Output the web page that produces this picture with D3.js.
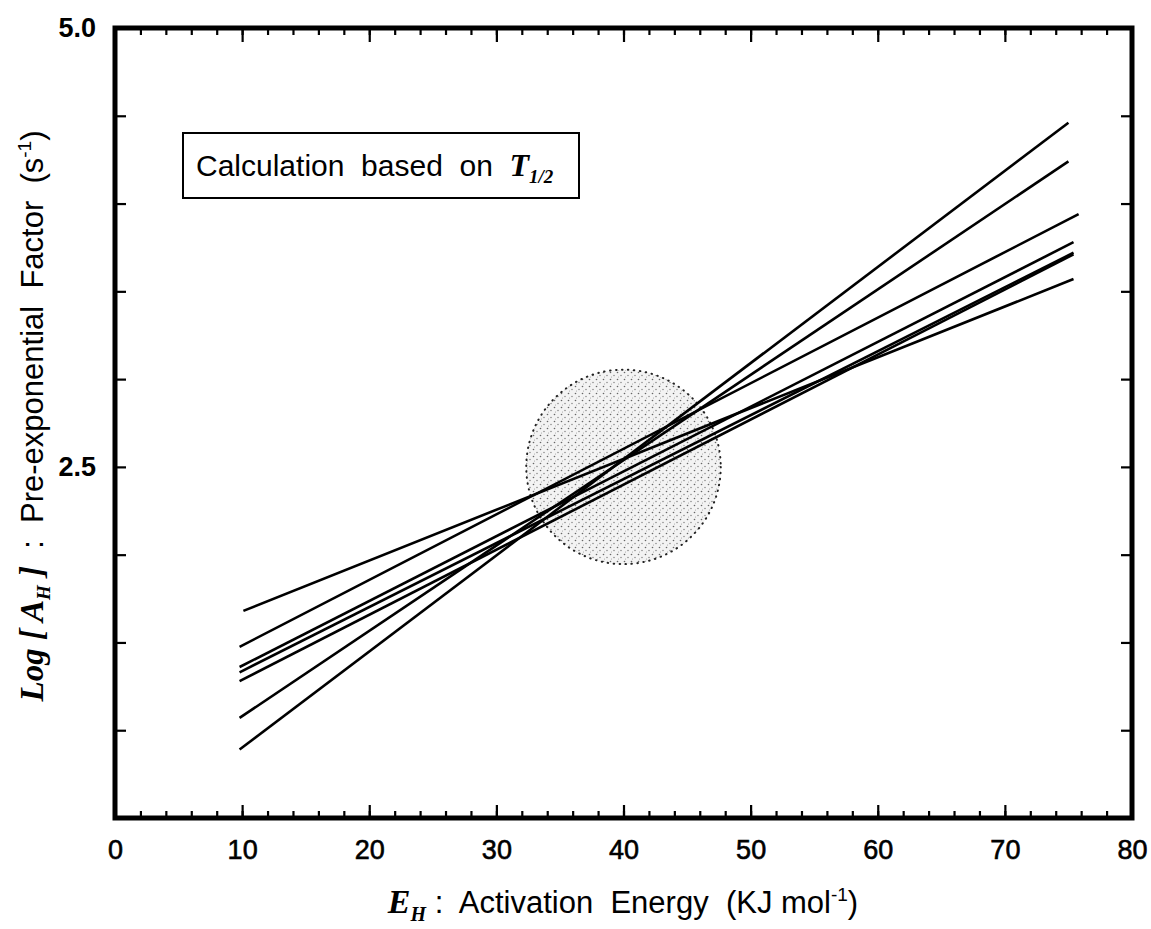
<!DOCTYPE html>
<html>
<head>
<meta charset="utf-8">
<script src="https://cdn.jsdelivr.net/npm/d3@7"></script>
<style>
  body { margin: 0; background: #fff; }
  text { font-family: "Liberation Sans", Arial, sans-serif; fill: #000; }
  .serif { font-family: "Liberation Serif", "Times New Roman", serif; }
</style>
</head>
<body>
<div id="chart"></div>
<script>
// fitted lines (x in KJ/mol, y = log A_H)
const xStart = [9.8, 9.8, 9.8, 9.8, 9.8, 9.8, 10.1];
const yStart = [0.89, 1.07, 1.475, 1.36, 1.33, 1.28, 1.68];
const xEnd   = [75.0, 75.0, 75.8, 75.4, 75.4, 75.4, 75.4];
const yEnd   = [4.46, 4.24, 3.94, 3.78, 3.72, 3.71, 3.57];

// shaded region where the lines meet
const spotCenter = [40, 2.5];
const spotRadius = 7.65;   // in x units

const xMajor = [0, 10, 20, 30, 40, 50, 60, 70, 80];
const xMinor = d3.range(0, 81, 2);
const yMinor = [1.0, 1.5, 2.0, 2.5, 3.0, 3.5, 4.0, 4.5];
const yLabels = [5.0, 2.5];

const W = 1151, H = 929;

let svg = d3.select("#chart").append("svg")
    .attr("width", W)
    .attr("height", H);

let x = d3.scaleLinear().domain([0, 80]).range([115, 1132]);
let y = d3.scaleLinear().domain([0.5, 5.0]).range([818, 28]);

// stipple for the circle
let defs = svg.append("defs");
let pat = defs.append("pattern")
    .attr("id", "stip")
    .attr("patternUnits", "userSpaceOnUse")
    .attr("width", 7)
    .attr("height", 7);
pat.append("rect").attr("width", 7).attr("height", 7).attr("fill", "#f3f3f3");
pat.append("circle").attr("cx", 1.5).attr("cy", 1.5).attr("r", 0.8).attr("fill", "#666");
pat.append("circle").attr("cx", 5).attr("cy", 4.5).attr("r", 0.7).attr("fill", "#777");
pat.append("circle").attr("cx", 2.5).attr("cy", 6).attr("r", 0.5).attr("fill", "#999");

let rPx = x(spotCenter[0] + spotRadius) - x(spotCenter[0]);
svg.append("circle")
    .attr("cx", x(spotCenter[0]))
    .attr("cy", y(spotCenter[1]))
    .attr("r", rPx)
    .attr("fill", "url(#stip)")
    .attr("stroke", "#222")
    .attr("stroke-width", 2)
    .attr("stroke-dasharray", "0.5 5.5")
    .attr("stroke-linecap", "round");

// lines
let lines = xStart.map((d, i) => [[xStart[i], yStart[i]], [xEnd[i], yEnd[i]]]);
let lineGen = d3.line().x(d => x(d[0])).y(d => y(d[1]));
svg.selectAll(".fit").data(lines).enter()
    .append("path")
    .attr("class", "fit")
    .attr("d", lineGen)
    .attr("fill", "none")
    .attr("stroke", "#000")
    .attr("stroke-width", 2.6);

// axes, ticks pointing inward
let tickStyle = g => {
    g.select(".domain").remove();
    g.selectAll(".tick line").attr("stroke", "#000").attr("stroke-width", 2.2);
};

svg.append("g").attr("transform", "translate(0,818)")
    .call(d3.axisBottom(x).tickValues(xMinor).tickSize(-7).tickFormat(""))
    .call(tickStyle);
svg.append("g").attr("transform", "translate(0,818)")
    .call(d3.axisBottom(x).tickValues(xMajor).tickSize(-13).tickPadding(22).tickFormat(d3.format("d")))
    .call(tickStyle)
    .selectAll("text")
    .attr("font-size", 27)
    .attr("font-family", "Liberation Sans, Arial, sans-serif")
    .attr("stroke", "#000").attr("stroke-width", 0.6);

svg.append("g").attr("transform", "translate(0,28)")
    .call(d3.axisTop(x).tickValues(xMinor).tickSize(-7).tickFormat(""))
    .call(tickStyle);
svg.append("g").attr("transform", "translate(0,28)")
    .call(d3.axisTop(x).tickValues(xMajor).tickSize(-14).tickFormat(""))
    .call(tickStyle);

svg.append("g").attr("transform", "translate(115,0)")
    .call(d3.axisLeft(y).tickValues(yMinor).tickSize(-11).tickFormat(""))
    .call(tickStyle);
svg.append("g").attr("transform", "translate(115,0)")
    .call(d3.axisLeft(y).tickValues(yLabels).tickSize(0).tickPadding(19).tickFormat(d3.format(".1f")))
    .call(tickStyle)
    .selectAll("text").attr("font-size", 27).attr("font-weight", "bold").attr("font-family", "Liberation Sans, Arial, sans-serif");

svg.append("g").attr("transform", "translate(1132,0)")
    .call(d3.axisRight(y).tickValues(yMinor).tickSize(-11).tickFormat(""))
    .call(tickStyle);

// frame
svg.append("rect")
    .attr("x", x(0)).attr("y", y(5))
    .attr("width", x(80) - x(0))
    .attr("height", y(0.5) - y(5))
    .attr("fill", "none")
    .attr("stroke", "#000")
    .attr("stroke-width", 5);

// legend box
svg.append("rect")
    .attr("x", 183).attr("y", 133)
    .attr("width", 396).attr("height", 65)
    .attr("fill", "#fff")
    .attr("stroke", "#000")
    .attr("stroke-width", 2);

let leg = svg.append("text")
    .attr("x", 196).attr("y", 176)
    .attr("font-size", 30)
    .style("white-space", "pre");
leg.append("tspan").text("Calculation  based  on  ");
leg.append("tspan").attr("class", "serif").attr("font-style", "italic").attr("font-weight", "bold").attr("font-size", 32).text("T");
leg.append("tspan").attr("class", "serif").attr("font-style", "italic").attr("font-weight", "bold")
    .attr("font-size", 19).attr("dy", 7).text("1/2");

// x title
let xt = svg.append("text")
    .attr("x", 623).attr("y", 913)
    .attr("text-anchor", "middle")
    .attr("font-size", 31)
    .style("white-space", "pre");
xt.append("tspan").attr("class", "serif").attr("font-style", "italic").attr("font-weight", "bold").attr("font-size", 34).text("E");
xt.append("tspan").attr("class", "serif").attr("font-style", "italic").attr("font-weight", "bold")
    .attr("font-size", 20).attr("dy", 8).text("H");
xt.append("tspan").attr("dy", -8).text(" :  Activation  Energy  (KJ mol");
xt.append("tspan").attr("font-size", 19).attr("dy", -12).text("-1");
xt.append("tspan").attr("dy", 12).text(")");

// y title
let yt = svg.append("text")
    .attr("transform", "translate(43,416) rotate(-90)")
    .attr("text-anchor", "middle")
    .attr("font-size", 31)
    .style("white-space", "pre");
yt.append("tspan").attr("class", "serif").attr("font-style", "italic").attr("font-weight", "bold").attr("font-size", 33).text("Log [ A");
yt.append("tspan").attr("class", "serif").attr("font-style", "italic").attr("font-weight", "bold")
    .attr("font-size", 19).attr("dy", 7).text("H");
yt.append("tspan").attr("class", "serif").attr("font-style", "italic").attr("font-weight", "bold")
    .attr("font-size", 33).attr("dy", -7).text(" ]");
yt.append("tspan").text("  :  Pre-exponential  Factor  (s");
yt.append("tspan").attr("font-size", 19).attr("dy", -12).text("-1");
yt.append("tspan").attr("dy", 12).text(")");
</script>
</body>
</html>
